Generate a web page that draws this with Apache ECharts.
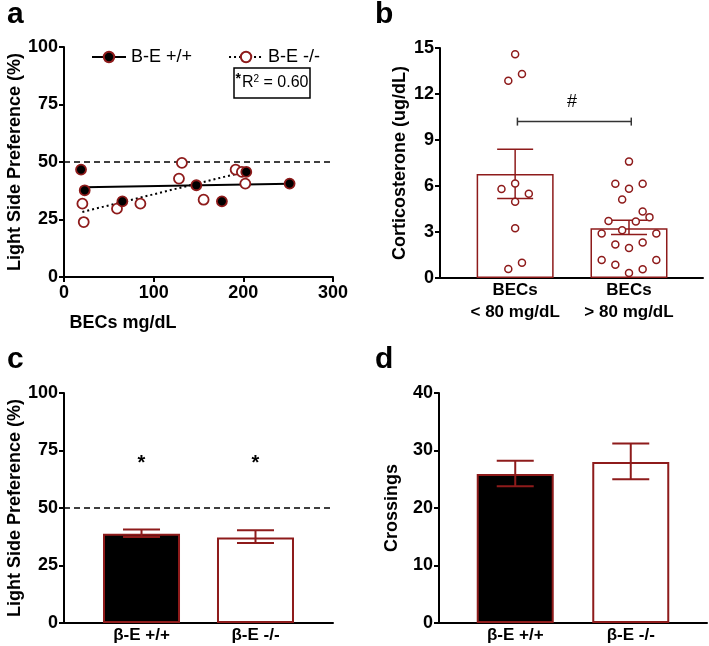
<!DOCTYPE html>
<html>
<head>
<meta charset="utf-8">
<script src="https://cdn.jsdelivr.net/npm/echarts@6.0.0/dist/echarts.min.js"></script>
<style>
  html, body { margin: 0; padding: 0; background: #fff; }
  #chart { width: 709px; height: 646px; }
</style>
</head>
<body>
<div id="chart"></div>
<script>
// panel a: light side preference vs BECs
var aWtX = [19, 23.1, 65.1, 147.6, 176.1, 203.3, 251.6];
var aWtY = [46.7, 37.7, 32.9, 39.9, 32.9, 45.7, 40.6];
var aKoX = [20.5, 22, 59.1, 85.2, 128.2, 131.5, 155.7, 191.4, 198.4, 202.2];
var aKoY = [31.9, 23.9, 29.7, 31.9, 42.8, 49.6, 33.6, 46.7, 45.7, 40.6];
var aWtFit = [[23.1, 39.0], [251.6, 40.5]];
var aKoFit = [[20.5, 28.3], [202.2, 45.8]];
var aXTicks = [0, 100, 200, 300];

// panel b: corticosterone by BEC group
var bCats = ['BECs\n< 80 mg/dL', 'BECs\n> 80 mg/dL'];
var bMean = [6.78, 3.25];
var bLow = [5.19, 2.83];
var bHigh = [8.39, 3.77];
var bLowX = [1.0, 0.94, 1.06, 0.88, 1.0, 1.12, 1.0, 1.0, 0.94, 1.06];
var bLowY = [14.6, 12.86, 13.3, 5.8, 6.17, 5.49, 4.97, 3.25, 0.59, 1.0];
var bHighX = [2.0, 1.88, 2.12, 2.0, 1.94, 2.12, 2.18, 1.82, 2.06, 1.94, 1.76, 2.24, 1.88, 2.0, 2.12, 1.76, 2.24, 1.88, 2.12, 2.0];
var bHighY = [7.59, 6.15, 6.15, 5.82, 5.12, 4.34, 3.97, 3.71, 3.68, 3.12, 2.9, 2.9, 2.18, 1.96, 2.31, 1.18, 1.18, 0.87, 0.57, 0.33];

// panel c: light side preference by genotype
var geno = ['β-E +/+', 'β-E -/-'];
var cMean = [38.8, 37.2];
var cLow = [37.4, 34.8];
var cHigh = [40.7, 40.3];

// panel d: crossings by genotype
var dMean = [25.9, 28.0];
var dLow = [23.8, 25.0];
var dHigh = [28.2, 31.2];

var RED = '#8e1b1b';
var FONT = 'Liberation Sans';

function errBar(capW, color, width) {
  return function (params, api) {
    var x = api.value(0);
    var lo = api.coord([x, api.value(1)]);
    var hi = api.coord([x, api.value(2)]);
    var st = { stroke: color, lineWidth: width };
    return { type: 'group', children: [
      { type: 'line', shape: { x1: lo[0], y1: lo[1], x2: hi[0], y2: hi[1] }, style: st },
      { type: 'line', shape: { x1: hi[0] - capW / 2, y1: hi[1], x2: hi[0] + capW / 2, y2: hi[1] }, style: st },
      { type: 'line', shape: { x1: lo[0] - capW / 2, y1: lo[1], x2: lo[0] + capW / 2, y2: lo[1] }, style: st }
    ] };
  };
}

function textMark(texts, size, weight) {
  return function (params, api) {
    var p = api.coord([api.value(0), api.value(1)]);
    return { type: 'text', x: p[0], y: p[1], style: {
      text: texts[params.dataIndex], fill: '#000', font: weight + ' ' + size + 'px ' + FONT,
      align: 'center', verticalAlign: 'middle' } };
  };
}

function pairs(xs, ys) { return xs.map(function (x, i) { return [x, ys[i]]; }); }
function errData(lo, hi) { return lo.map(function (l, i) { return [i + 1, l, hi[i]]; }); }

var axisLine = { lineStyle: { color: '#000', width: 2 } };
var tickOut = { show: true, length: 5, lineStyle: { color: '#000', width: 2 } };
var tickLbl = { color: '#000', fontSize: 18, fontWeight: 'bold', fontFamily: FONT, margin: 6 };
var nameStyle = { color: '#000', fontSize: 18, fontWeight: 'bold', fontFamily: FONT };
var dashed = { color: '#000', width: 1.5, type: [6, 4] };

function catX(grid, min, max, labels) {
  return {
    type: 'value', gridIndex: grid, min: min, max: max,
    splitLine: { show: false }, axisLine: axisLine, axisTick: { show: false },
    axisLabel: { customValues: [1, 2], color: '#000', fontSize: 17, fontWeight: 'bold',
      fontFamily: FONT, lineHeight: 22, margin: 1,
      formatter: function (v) { return labels[Math.round(v) - 1]; } }
  };
}

function valY(grid, max, interval, name, gap) {
  return {
    type: 'value', gridIndex: grid, min: 0, max: max, interval: interval,
    splitLine: { show: false }, axisLine: { show: true, lineStyle: axisLine.lineStyle },
    axisTick: tickOut, axisLabel: tickLbl,
    name: name, nameLocation: 'middle', nameGap: gap, nameTextStyle: nameStyle
  };
}

function barItems(vals, fills) {
  return vals.map(function (v, i) { return { value: [i + 1, v], itemStyle: { color: fills[i] } }; });
}

var chart = echarts.init(document.getElementById('chart'));
chart.setOption({
  animation: false,
  backgroundColor: '#fff',
  graphic: [
    { type: 'text', left: 7, top: 0, style: { text: 'a', font: 'bold 30px ' + FONT, fill: '#000' } },
    { type: 'text', left: 375, top: 0, style: { text: 'b', font: 'bold 30px ' + FONT, fill: '#000' } },
    { type: 'text', left: 7, top: 345, style: { text: 'c', font: 'bold 30px ' + FONT, fill: '#000' } },
    { type: 'text', left: 375, top: 345, style: { text: 'd', font: 'bold 30px ' + FONT, fill: '#000' } },
    { type: 'rect', shape: { x: 234, y: 68, width: 76, height: 30 }, style: { fill: '#fff', stroke: '#000', lineWidth: 1.5 }, z: 10 },
    { type: 'text', x: 272, y: 83, z: 11, style: {
      text: '{s|*}R{p|2} = 0.60', align: 'center', verticalAlign: 'middle',
      font: '16px ' + FONT, fill: '#000',
      rich: { s: { fontSize: 14, fontWeight: 'bold', verticalAlign: 'top', padding: [0, 1, 8, 0] },
              p: { fontSize: 10, padding: [0, 0, 8, 0] } } } }
  ],
  legend: {
    left: 86, top: 43, itemWidth: 34, itemHeight: 13, itemGap: 36,
    data: ['B-E +/+', 'B-E -/-'],
    textStyle: { color: '#000', fontSize: 18, fontFamily: FONT },
    selectedMode: false
  },
  grid: [
    { left: 64, top: 47, width: 269, height: 230 },
    { left: 440, top: 48, width: 263, height: 230 },
    { left: 64, top: 393, width: 269, height: 230 },
    { left: 439, top: 393, width: 268, height: 230 }
  ],
  xAxis: [
    { type: 'value', gridIndex: 0, min: 0, max: 300, interval: 100,
      splitLine: { show: false }, axisLine: axisLine, axisTick: tickOut,
      axisLabel: Object.assign({}, tickLbl, { margin: 7, customValues: aXTicks }),
      name: 'BECs mg/dL', nameLocation: 'middle', nameGap: 37,
      nameTextStyle: Object.assign({}, nameStyle, { padding: [0, 151, 0, 0] }) },
    catX(1, 0.34, 2.65, bCats),
    catX(2, 0.32, 2.68, geno),
    catX(3, 0.34, 2.66, geno)
  ],
  yAxis: [
    valY(0, 100, 25, 'Light Side Preference (%)', 40),
    valY(1, 15, 3, 'Corticosterone (ug/dL)', 31),
    valY(2, 100, 25, 'Light Side Preference (%)', 40),
    valY(3, 40, 10, 'Crossings', 38)
  ],
  series: [
    // panel a
    { name: 'B-E +/+', type: 'line', xAxisIndex: 0, yAxisIndex: 0, data: aWtFit,
      symbol: 'circle', showSymbol: false, symbolSize: 9,
      itemStyle: { color: '#000', borderColor: RED, borderWidth: 1.8 },
      lineStyle: { color: '#000', width: 2 },
      markLine: { silent: true, symbol: ['none', 'none'], label: { show: false },
        lineStyle: dashed, data: [{ yAxis: 50 }] } },
    { name: 'B-E -/-', type: 'line', xAxisIndex: 0, yAxisIndex: 0, data: aKoFit,
      symbol: 'circle', showSymbol: false, symbolSize: 9,
      itemStyle: { color: '#fff', borderColor: RED, borderWidth: 1.8 },
      lineStyle: { color: '#000', width: 2, type: [2, 3] } },
    { name: 'KO points', type: 'scatter', xAxisIndex: 0, yAxisIndex: 0, data: pairs(aKoX, aKoY), z: 5,
      symbolSize: 10, itemStyle: { color: '#fff', borderColor: RED, borderWidth: 1.8, opacity: 1 } },
    { name: 'WT points', type: 'scatter', xAxisIndex: 0, yAxisIndex: 0, data: pairs(aWtX, aWtY), z: 6,
      symbolSize: 10, itemStyle: { color: '#000', borderColor: RED, borderWidth: 1.8, opacity: 1 } },

    // panel b
    { type: 'bar', xAxisIndex: 1, yAxisIndex: 1, barWidth: 77, data: barItems(bMean, ['#fff', '#fff']),
      itemStyle: { borderColor: RED, borderWidth: 1.5 }, z: 2 },
    { type: 'custom', xAxisIndex: 1, yAxisIndex: 1, data: errData(bLow, bHigh), z: 5,
      encode: { x: 0, y: [1, 2] }, renderItem: errBar(36, RED, 1.5) },
    { type: 'custom', xAxisIndex: 1, yAxisIndex: 1, data: [[1.02, 2.02, 10.2]], z: 5,
      encode: { x: [0, 1], y: 2 },
      renderItem: function (params, api) {
        var a = api.coord([api.value(0), api.value(2)]);
        var b = api.coord([api.value(1), api.value(2)]);
        var st = { stroke: '#333', lineWidth: 1.5 };
        return { type: 'group', children: [
          { type: 'line', shape: { x1: a[0], y1: a[1], x2: b[0], y2: b[1] }, style: st },
          { type: 'line', shape: { x1: a[0], y1: a[1] - 4, x2: a[0], y2: a[1] + 4 }, style: st },
          { type: 'line', shape: { x1: b[0], y1: b[1] - 4, x2: b[0], y2: b[1] + 4 }, style: st }
        ] };
      } },
    { type: 'custom', xAxisIndex: 1, yAxisIndex: 1, data: [[1.5, 11.5]], z: 5,
      renderItem: textMark(['#'], 18, 'normal') },
    { type: 'scatter', xAxisIndex: 1, yAxisIndex: 1, data: pairs(bLowX, bLowY), z: 6,
      symbolSize: 7, itemStyle: { color: '#fff', borderColor: RED, borderWidth: 1.5, opacity: 1 } },
    { type: 'scatter', xAxisIndex: 1, yAxisIndex: 1, data: pairs(bHighX, bHighY), z: 6,
      symbolSize: 7, itemStyle: { color: '#fff', borderColor: RED, borderWidth: 1.5, opacity: 1 } },

    // panel c
    { type: 'bar', xAxisIndex: 2, yAxisIndex: 2, barWidth: 77, data: barItems(cMean, ['#000', '#fff']),
      itemStyle: { borderColor: RED, borderWidth: 2 }, z: 2,
      markLine: { silent: true, symbol: ['none', 'none'], label: { show: false },
        lineStyle: dashed, data: [{ yAxis: 50 }] } },
    { type: 'custom', xAxisIndex: 2, yAxisIndex: 2, data: errData(cLow, cHigh), z: 5,
      encode: { x: 0, y: [1, 2] }, renderItem: errBar(37, RED, 2) },
    { type: 'custom', xAxisIndex: 2, yAxisIndex: 2, data: [[1, 69.5], [2, 69.5]], z: 5,
      renderItem: textMark(['*', '*'], 20, 'bold') },

    // panel d
    { type: 'bar', xAxisIndex: 3, yAxisIndex: 3, barWidth: 77, data: barItems(dMean, ['#000', '#fff']),
      itemStyle: { borderColor: RED, borderWidth: 2 }, z: 2 },
    { type: 'custom', xAxisIndex: 3, yAxisIndex: 3, data: errData(dLow, dHigh), z: 5,
      encode: { x: 0, y: [1, 2] }, renderItem: errBar(37, RED, 2) }
  ]
});
</script>
</body>
</html>
